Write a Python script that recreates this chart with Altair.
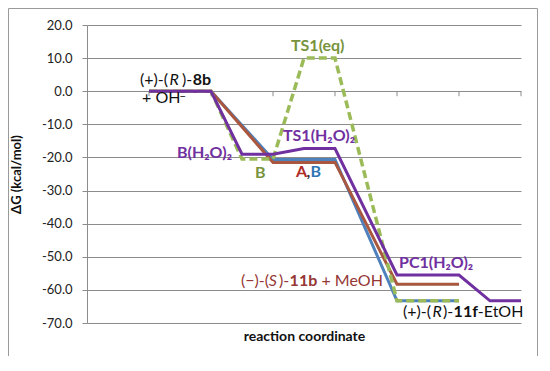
import altair as alt
import pandas as pd

# ---- data -------------------------------------------------------------
y_ticks = [20, 10, 0, -10, -20, -30, -40, -50, -60, -70]
x_ticks = [1, 2, 3, 4, 5, 6, 7]

purple_x = [1, 2, 2.5, 3, 3.5, 4, 5, 6, 6.5, 7]
purple_y = [0, 0, -19.0, -19.0, -17.3, -17.3, -55.5, -55.5, -63.3, -63.3]

brown_x = [1, 2, 3, 4, 5, 6]
brown_y = [0, 0, -21.5, -21.5, -58.3, -58.3]

blue_x = [1, 2, 3, 4, 5, 6]
blue_y = [0, 0, -20.6, -20.6, -63.3, -63.3]

green_x = [1, 2, 2.5, 3, 3.5, 4, 5, 6]
green_y = [0, 0, -20.5, -20.5, 10.0, 10.0, -63.3, -63.3]

# annotation fragments (text, x, y, colour, style)
lab_text = ["(+)-(", "R", ")-", "8b",
            "+ OH", "\u2212",
            "B(H\u2082O)\u2082",
            "B",
            "TS1(eq)",
            "TS1(H\u2082O)\u2082",
            "A", ",", "B",
            "PC1(H\u2082O)\u2082",
            "(\u2212)-(", "S", ")-", "11b", "+ MeOH",
            "(+)-(", "R", ")-", "11f", "-EtOH"]
lab_x = [0.8548, 1.3290, 1.5320, 1.7060,
         0.8871, 1.4900,
         1.4516,
         2.7097,
         3.2903,
         3.1613,
         3.3710, 3.5403, 3.6048,
         5.0323,
         2.4839, 2.9323, 3.0968, 3.2677, 3.7820,
         5.0968, 5.5710, 5.7419, 5.9129, 6.3032]
lab_y = [1.81, 1.81, 1.81, 1.81,
         -3.62, -2.8,
         -20.24,
         -26.28,
         12.08,
         -15.1,
         -25.97, -25.97, -25.97,
         -53.46,
         -58.9, -58.9, -58.9, -58.9, -58.9,
         -68.26, -68.26, -68.26, -68.26, -68.26]
lab_color = ["#111111"] * 4 + ["#111111"] * 2 + ["#7030A0"] + ["#77933C"] + ["#77933C"] + ["#7030A0"] + \
            ["#B02A26", "#333333", "#2E75B6"] + ["#7030A0"] + ["#953735"] * 5 + ["#111111"] * 5
lab_style = ["normal", "italic", "normal", "bold",
             "normal", "sup",
             "bold",
             "bold",
             "bold",
             "bold",
             "bold", "bold", "bold",
             "bold",
             "normal", "italic", "normal", "bold", "normal",
             "normal", "italic", "normal", "bold", "normal"]

# ---- chart ------------------------------------------------------------
FONT = "Lato"
GRID = "#8c8c8c"

x_scale = alt.Scale(domain=[0, 7], nice=False, zero=False)
y_scale = alt.Scale(domain=[-70, 20], nice=False, zero=False)

x_axis = alt.Axis(title="reaction coordinate", labels=False, ticks=False, domain=False,
                  grid=False, titleFont=FONT, titleFontSize=14, titleFontWeight="bold",
                  titleColor="#111111", titlePadding=6)
y_axis = alt.Axis(values=y_ticks,
                  labelExpr="(datum.value < 0 ? '-' : '') + format(abs(datum.value), '.1f')",
                  grid=True, gridColor=GRID, gridWidth=1, domainColor=GRID, tickColor=GRID,
                  tickSize=5, labelFont=FONT, labelFontSize=13, labelColor="#222222",
                  labelPadding=10, title="\u0394G (kcal/mol)", titleFont=FONT,
                  titleFontSize=13, titleFontWeight="bold", titleColor="#111111",
                  titlePadding=18)


def line_layer(xs, ys, color, dash=None):
    df = pd.DataFrame({"x": xs, "y": ys, "o": list(range(len(xs)))})
    kw = dict(color=color, strokeWidth=3, strokeJoin="miter", clip=False)
    if dash:
        kw["strokeDash"] = dash
        kw["strokeWidth"] = 3.5
    return alt.Chart(df).mark_line(**kw).encode(
        x=alt.X("x:Q", scale=x_scale, axis=x_axis),
        y=alt.Y("y:Q", scale=y_scale, axis=y_axis),
        order="o:Q",
    )


ticks_df = pd.DataFrame({"x": x_ticks, "y": [0] * len(x_ticks), "y2": [-1.5] * len(x_ticks)})
tick_layer = alt.Chart(ticks_df).mark_rule(color=GRID, strokeWidth=1).encode(
    x=alt.X("x:Q", scale=x_scale, axis=x_axis),
    y=alt.Y("y:Q", scale=y_scale, axis=y_axis),
    y2="y2:Q",
)

frame = alt.Chart(pd.DataFrame({"a": [0]})).mark_rect(
    fill="transparent", stroke="#9a9a9a", strokeWidth=1
).encode(x=alt.value(-78.5), x2=alt.value(450.5), y=alt.value(-16.5), y2=alt.value(332.5))

labels_df = pd.DataFrame({"t": lab_text, "x": lab_x, "y": lab_y, "c": lab_color, "s": lab_style})


def text_layer(style):
    kw = dict(align="left", baseline="alphabetic", font=FONT, fontSize=16)
    if style == "bold":
        kw["fontWeight"] = "bold"
    if style == "italic":
        kw["fontStyle"] = "italic"
    if style == "sup":
        kw["fontSize"] = 11
    return alt.Chart(labels_df).transform_filter(
        alt.datum.s == style
    ).mark_text(**kw).encode(
        x=alt.X("x:Q", scale=x_scale, axis=x_axis),
        y=alt.Y("y:Q", scale=y_scale, axis=y_axis),
        text="t:N",
        color=alt.Color("c:N", scale=None),
    )


chart = alt.layer(
    frame,
    tick_layer,
    line_layer(blue_x, blue_y, "#4F81BD"),
    line_layer(brown_x, brown_y, "#A9573F"),
    line_layer(green_x, green_y, "#9BBB59", dash=[8, 4]),
    line_layer(purple_x, purple_y, "#7030A0"),
    text_layer("normal"),
    text_layer("italic"),
    text_layer("bold"),
    text_layer("sup"),
).properties(
    width=434, height=298,
    autosize=alt.AutoSizeParams(type="none"),
    padding={"left": 79, "top": 17, "right": 17, "bottom": 33},
).configure_view(strokeWidth=0)

chart.save("out.html", embed_options={"renderer": "svg", "actions": False})
